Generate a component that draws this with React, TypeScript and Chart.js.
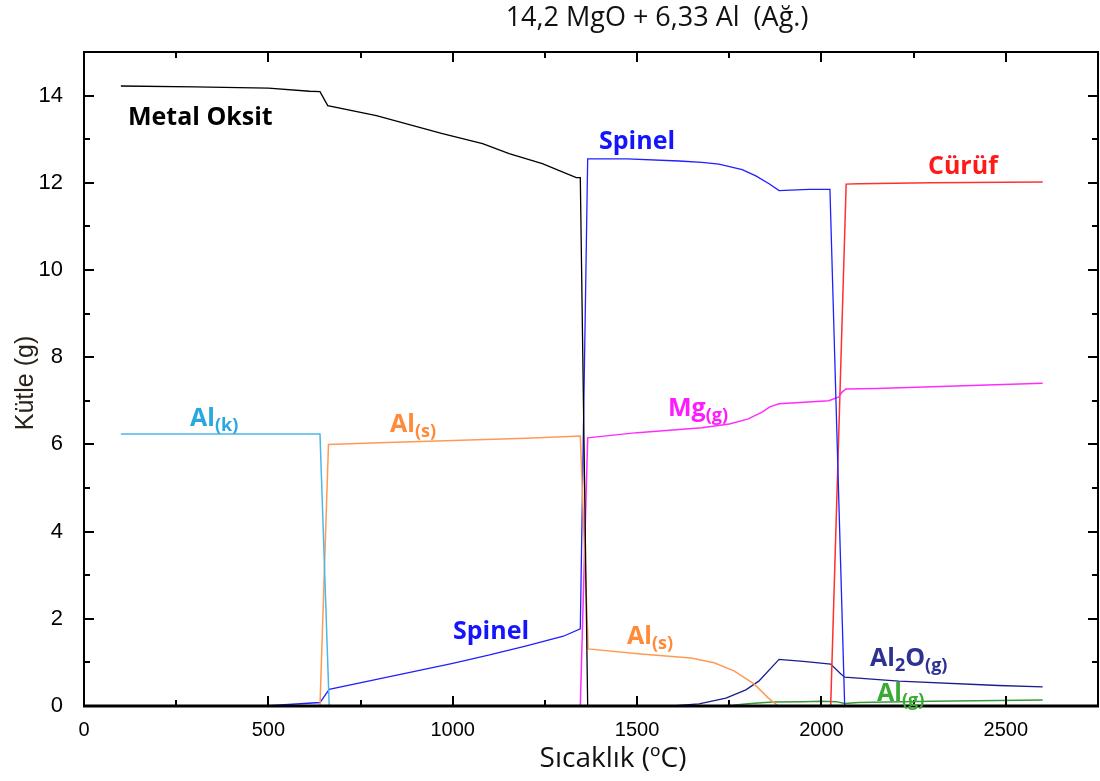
import React, { useEffect, useRef } from "react";
import { Chart, registerables } from "chart.js";

Chart.register(...registerables);

// ---- data (temperature °C, mass g) ----
const metalOksitT = [100, 300, 500, 612, 640, 661, 793, 972, 1081, 1153, 1243, 1335, 1346, 1366];
const metalOksitM = [14.22, 14.2, 14.17, 14.1, 14.09, 13.77, 13.54, 13.13, 12.9, 12.67, 12.44, 12.12, 12.12, 0];

const alKT = [100, 640, 665];
const alKM = [6.24, 6.24, 0];

const alST = [640, 663, 800, 1000, 1200, 1346, 1366, 1367, 1510, 1646, 1709, 1764, 1818, 1856, 1883];
const alSM = [0, 6.0, 6.04, 6.09, 6.14, 6.19, 1.68, 1.31, 1.19, 1.1, 0.99, 0.8, 0.5, 0.18, 0];

const spinelT = [490, 640, 665, 800, 900, 1000, 1100, 1200, 1300, 1346, 1366, 1473, 1614, 1676, 1722, 1785, 1822, 1858, 1885, 1966, 2023, 2063];
const spinelM = [0, 0.08, 0.38, 0.62, 0.8, 0.98, 1.17, 1.38, 1.6, 1.77, 12.55, 12.55, 12.5, 12.47, 12.43, 12.3, 12.16, 11.98, 11.82, 11.85, 11.85, 0];

const mgGT = [1346, 1366, 1500, 1676, 1750, 1800, 1839, 1860, 1885, 2020, 2047, 2056, 2066, 2150, 2600];
const mgGM = [0, 6.15, 6.27, 6.38, 6.47, 6.58, 6.74, 6.86, 6.93, 7.0, 7.09, 7.2, 7.27, 7.28, 7.4];

const curufT = [2025, 2067, 2100, 2300, 2600];
const curufM = [0, 11.97, 11.98, 12.0, 12.02];

const al2oT = [1595, 1668, 1741, 1795, 1830, 1885, 1958, 2025, 2052, 2063, 2210, 2480, 2600];
const al2oM = [0, 0.05, 0.18, 0.37, 0.57, 1.07, 1.02, 0.96, 0.74, 0.66, 0.57, 0.47, 0.44];

const alGT = [1720, 1760, 1800, 1866, 1950, 2000, 2040, 2063, 2100, 2300, 2600];
const alGM = [0, 0.02, 0.05, 0.09, 0.1, 0.11, 0.1, 0.06, 0.08, 0.11, 0.14];

const xTickLabels = [0, 500, 1000, 1500, 2000, 2500];
const yTickLabels = [0, 2, 4, 6, 8, 10, 12, 14];

const titleText = "14,2 MgO + 6,33 Al  (Ağ.)";
const xTitle = "Sıcaklık (ºC)";
const yTitle = "Kütle (g)";

const pts = (t: number[], m: number[]) => t.map((v, i) => ({ x: v, y: m[i] }));

type Part = { t: string; sub?: boolean };

function drawRich(ctx: CanvasRenderingContext2D, parts: Part[], x: number, y: number, color: string, size: number) {
  ctx.fillStyle = color;
  ctx.textBaseline = "alphabetic";
  ctx.textAlign = "left";
  let cx = x;
  for (const p of parts) {
    const s = p.sub ? Math.round(size * 0.7) : size;
    ctx.font = `bold ${s}px 'Open Sans'`;
    ctx.fillText(p.t, cx, y + (p.sub ? size * 0.2 : 0));
    cx += ctx.measureText(p.t).width;
  }
}

const framePlugin = {
  id: "framePlugin",
  afterDraw(chart: any) {
    const { ctx, chartArea: a } = chart;
    const xs = chart.scales.x;
    const ys = chart.scales.y;
    ctx.save();
    ctx.strokeStyle = "#000";
    ctx.lineWidth = 2;
    ctx.strokeRect(a.left, a.top, a.right - a.left, a.bottom - a.top);
    ctx.lineWidth = 3;
    ctx.beginPath();
    ctx.moveTo(a.left - 1, a.bottom);
    ctx.lineTo(a.right + 1, a.bottom);
    ctx.stroke();
    ctx.lineWidth = 2;
    ctx.beginPath();
    for (let t = 250; t < 2750; t += 250) {
      const px = Math.round(xs.getPixelForValue(t));
      const len = t % 500 === 0 ? 10 : 6;
      ctx.moveTo(px, a.bottom);
      ctx.lineTo(px, a.bottom - len);
      ctx.moveTo(px, a.top);
      ctx.lineTo(px, a.top + len);
    }
    for (let v = 1; v < 15; v += 1) {
      const py = Math.round(ys.getPixelForValue(v));
      const len = v % 2 === 0 ? 10 : 6;
      ctx.moveTo(a.left, py);
      ctx.lineTo(a.left + len, py);
      ctx.moveTo(a.right, py);
      ctx.lineTo(a.right - len, py);
    }
    ctx.stroke();

    // titles
    ctx.fillStyle = "#111";
    ctx.textAlign = "center";
    ctx.textBaseline = "middle";
    ctx.font = "27px 'Open Sans'";
    ctx.fillText(titleText, 657, 18);
    ctx.font = "28px 'Open Sans'";
    ctx.fillText(xTitle, 613, 759);
    ctx.save();
    ctx.translate(26, 383);
    ctx.rotate(-Math.PI / 2);
    ctx.fillStyle = "#2a2218";
    ctx.font = "25px 'Liberation Sans'";
    ctx.fillText(yTitle, 0, 0);
    ctx.restore();

    // annotations
    const fs = 25;
    drawRich(ctx, [{ t: "Metal Oksit" }], 128, 125, "#000", fs);
    drawRich(ctx, [{ t: "Spinel" }], 599, 149, "#1414ff", fs);
    drawRich(ctx, [{ t: "Cürüf" }], 928, 174, "#ff1a1a", fs);
    drawRich(ctx, [{ t: "Al" }, { t: "(k)", sub: true }], 190, 426, "#29a8e0", fs);
    drawRich(ctx, [{ t: "Al" }, { t: "(s)", sub: true }], 390, 432, "#ff8a3a", fs);
    drawRich(ctx, [{ t: "Mg" }, { t: "(g)", sub: true }], 668, 416, "#ff1aff", fs);
    drawRich(ctx, [{ t: "Spinel" }], 453, 639, "#1414ff", fs);
    drawRich(ctx, [{ t: "Al" }, { t: "(s)", sub: true }], 627, 644, "#ff8a3a", fs);
    drawRich(ctx, [{ t: "Al" }, { t: "2", sub: true }, { t: "O" }, { t: "(g)", sub: true }], 870, 666, "#2e3192", fs);
    drawRich(ctx, [{ t: "Al" }, { t: "(g)", sub: true }], 877, 701, "#3aaa35", fs);
    ctx.restore();
  },
};

export default function App() {
  const ref = useRef<HTMLCanvasElement | null>(null);
  useEffect(() => {
    document.body.style.margin = "0";
    if (!ref.current) return;
    const mk = (label: string, t: number[], m: number[], color: string, w = 1.3) => ({
      label,
      data: pts(t, m),
      borderColor: color,
      backgroundColor: color,
      borderWidth: w,
      pointRadius: 0,
      tension: 0,
      fill: false,
    });
    const chart = new Chart(ref.current, {
      type: "line",
      data: {
        datasets: [
          mk("Metal Oksit", metalOksitT, metalOksitM, "#000000"),
          mk("Al(k)", alKT, alKM, "#4db6e8", 1.5),
          mk("Al(s)", alST, alSM, "#ff9a55", 1.5),
          mk("Spinel", spinelT, spinelM, "#2020ff", 1.3),
          mk("Mg(g)", mgGT, mgGM, "#ff2cff", 1.5),
          mk("Cürüf", curufT, curufM, "#ff3030", 1.5),
          mk("Al2O(g)", al2oT, al2oM, "#1c1c8c", 1.3),
          mk("Al(g)", alGT, alGM, "#3a9a3a", 1.5),
        ] as any,
      },
      options: {
        animation: false,
        responsive: false,
        maintainAspectRatio: false,
        layout: { padding: { left: 0, top: 52, right: 2, bottom: 0 } },
        plugins: { legend: { display: false }, title: { display: false }, tooltip: { enabled: false } },
        scales: {
          x: {
            type: "linear",
            min: 0,
            max: 2750,
            afterFit: (s: any) => { s.height = 75; },
            afterBuildTicks: (s: any) => { s.ticks = xTickLabels.map((v) => ({ value: v })); },
            grid: { display: false, drawTicks: false },
            border: { display: false },
            ticks: {
              padding: 12,
              color: "#000",
              font: { family: "'Liberation Sans'", size: 20 },
              maxRotation: 0,
              callback: (v: any) => String(v),
            },
          },
          y: {
            type: "linear",
            min: 0,
            max: 15,
            afterFit: (s: any) => { s.width = 84; },
            afterBuildTicks: (s: any) => { s.ticks = yTickLabels.map((v) => ({ value: v })); },
            grid: { display: false, drawTicks: false },
            border: { display: false },
            ticks: {
              padding: 21,
              color: "#000",
              font: { family: "'Liberation Sans'", size: 22 },
              callback: (v: any) => String(v),
            },
          },
        },
      } as any,
      plugins: [framePlugin],
    });
    return () => chart.destroy();
  }, []);
  return (
    <div style={{ position: "absolute", left: 0, top: 0, width: 1100, height: 781 }}>
      <canvas ref={ref} width={1100} height={781} style={{ width: 1100, height: 781, display: "block" }} />
    </div>
  );
}
